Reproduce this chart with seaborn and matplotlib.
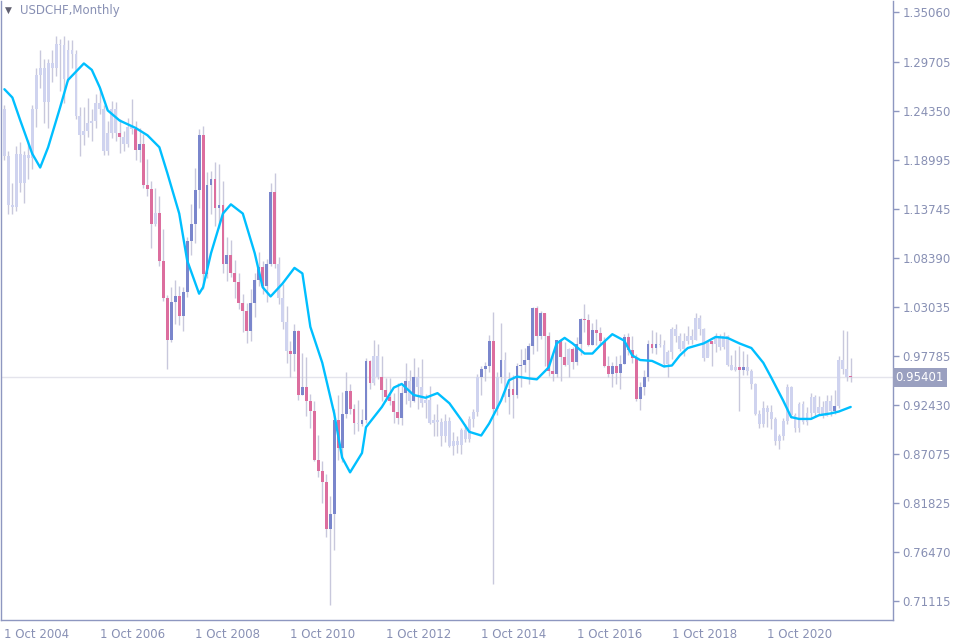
import numpy as np
import pandas as pd
import matplotlib
matplotlib.use("Agg")
import matplotlib.pyplot as plt
import seaborn as sns

# ---- data: USDCHF monthly, Oct 2004 .. Jul 2022 ----
start_month = "2004-10"
first_open = 1.245
closes = [
 1.195,1.141,1.139,
 1.197,1.165,1.196,1.192,1.245,1.282,1.290,1.253,1.295,1.290,1.316,1.315,
 1.278,1.310,1.305,1.238,1.217,1.222,1.230,1.232,1.252,1.245,1.200,1.220,
 1.246,1.219,1.215,1.208,1.226,1.224,1.201,1.208,1.163,1.159,1.121,1.133,
 1.081,1.040,0.995,1.036,1.042,1.021,1.047,1.102,1.121,1.158,1.217,1.066,
 1.163,1.169,1.138,1.141,1.077,1.087,1.068,1.058,1.035,1.026,1.004,1.035,
 1.060,1.074,1.053,1.077,1.155,1.077,1.040,1.014,0.983,0.980,1.004,0.935,
 0.944,0.929,0.918,0.864,0.853,0.841,0.790,0.806,0.908,0.877,0.914,0.939,
 0.920,0.905,0.903,0.908,0.972,0.948,0.977,0.955,0.940,0.933,0.928,0.916,
 0.910,0.937,0.950,0.929,0.955,0.944,0.926,0.930,0.905,0.908,0.906,0.890,
 0.907,0.880,0.885,0.881,0.897,0.887,0.909,0.917,0.955,0.963,0.966,0.994,
 0.920,0.955,0.973,0.933,0.941,0.935,0.966,0.968,0.973,0.988,1.029,0.999,
 1.024,0.999,0.961,0.958,0.995,0.976,0.968,0.985,0.971,0.990,1.017,1.016,
 0.989,1.006,1.002,0.994,0.967,0.958,0.967,0.959,0.969,0.998,0.984,0.975,
 0.931,0.944,0.955,0.990,0.986,0.990,0.989,0.969,0.982,1.007,0.999,0.985,
 0.994,0.999,0.995,1.019,1.007,0.975,0.994,0.990,0.998,0.987,0.999,0.968,
 0.962,0.965,0.962,0.965,0.961,0.947,0.914,0.904,0.921,0.916,0.909,0.885,
 0.891,0.907,0.944,0.913,0.899,0.925,0.906,0.915,0.933,0.915,0.922,0.912,
 0.928,0.918,0.923,0.973,0.963,0.955,0.954]
highs = [
 1.250,1.200,1.165,
 1.205,1.210,1.200,1.212,1.250,1.290,1.310,1.300,1.300,1.310,1.325,1.322,
 1.325,1.320,1.320,1.310,1.248,1.248,1.257,1.245,1.262,1.268,1.250,1.232,
 1.254,1.253,1.235,1.222,1.236,1.256,1.232,1.225,1.218,1.191,1.167,1.160,
 1.151,1.115,1.044,1.052,1.060,1.053,1.052,1.107,1.142,1.182,1.224,1.227,
 1.177,1.178,1.188,1.186,1.167,1.107,1.103,1.082,1.067,1.045,1.035,1.050,
 1.067,1.090,1.080,1.083,1.165,1.176,1.085,1.056,1.032,0.994,1.012,1.006,
 0.981,0.976,0.936,0.929,0.892,0.863,0.849,0.825,0.920,0.935,0.938,0.960,
 0.947,0.925,0.930,0.920,0.975,0.973,0.995,0.990,0.977,0.953,0.953,0.937,
 0.948,0.945,0.970,0.962,0.975,0.965,0.974,0.936,0.945,0.914,0.925,0.910,
 0.914,0.911,0.895,0.890,0.899,0.903,0.912,0.920,0.958,0.966,0.971,1.000,
 1.025,0.960,1.013,0.982,0.960,0.957,0.970,0.985,0.986,0.991,1.031,1.032,
 1.026,1.024,1.003,0.979,0.995,0.996,0.992,0.986,0.987,0.998,1.019,1.034,
 1.023,1.013,1.017,1.009,0.998,0.977,0.971,0.977,0.978,1.001,1.002,0.999,
 0.979,0.949,0.962,0.995,1.006,1.003,1.001,0.995,0.984,1.009,1.012,1.002,
 1.002,1.010,1.007,1.024,1.022,1.008,0.994,0.994,1.002,1.001,1.003,1.000,
 0.978,0.984,0.988,0.983,0.979,0.963,0.948,0.919,0.929,0.924,0.924,0.911,
 0.893,0.910,0.947,0.945,0.915,0.927,0.928,0.922,0.937,0.935,0.934,0.929,
 0.935,0.935,0.940,0.977,1.006,1.005,0.975]
lows = [
 1.190,1.131,1.131,
 1.135,1.155,1.143,1.170,1.180,1.226,1.268,1.230,1.225,1.275,1.281,1.265,
 1.252,1.276,1.290,1.235,1.195,1.206,1.215,1.211,1.225,1.240,1.196,1.196,
 1.214,1.211,1.198,1.200,1.204,1.218,1.190,1.188,1.160,1.151,1.095,1.118,
 1.075,1.037,0.963,0.992,1.012,1.011,1.005,1.041,1.087,1.100,1.138,1.050,
 1.062,1.131,1.118,1.116,1.068,1.059,1.063,1.040,1.028,1.003,0.991,0.994,
 1.020,1.053,1.045,1.036,1.075,1.073,1.034,1.007,0.970,0.954,0.961,0.930,
 0.935,0.912,0.899,0.863,0.846,0.818,0.781,0.707,0.767,0.864,0.862,0.910,
 0.914,0.893,0.896,0.901,0.905,0.942,0.946,0.952,0.928,0.928,0.924,0.905,
 0.903,0.902,0.925,0.922,0.927,0.920,0.922,0.910,0.904,0.890,0.890,0.880,
 0.884,0.878,0.870,0.872,0.871,0.884,0.884,0.900,0.912,0.935,0.950,0.960,
 0.730,0.913,0.948,0.927,0.914,0.910,0.932,0.944,0.960,0.947,0.980,0.983,
 0.996,0.967,0.956,0.950,0.955,0.950,0.966,0.955,0.963,0.968,0.978,1.003,
 0.988,0.989,0.989,0.989,0.965,0.955,0.944,0.947,0.942,0.969,0.978,0.970,
 0.929,0.919,0.935,0.950,0.981,0.980,0.987,0.965,0.954,0.974,0.993,0.983,
 0.977,0.990,0.990,0.995,1.000,0.972,0.977,0.966,0.982,0.984,0.985,0.967,
 0.962,0.961,0.918,0.957,0.957,0.941,0.913,0.899,0.900,0.900,0.898,0.881,
 0.876,0.886,0.904,0.910,0.895,0.895,0.903,0.902,0.909,0.911,0.913,0.910,
 0.912,0.912,0.914,0.921,0.958,0.950,0.949]
# months (index from Oct 2004) with coloured candles; others drawn pale
highlight_ranges = [(29, 29), (33, 37), (39, 68), (72, 88), (90, 92), (95, 101),
                    (103, 103), (120, 123), (125, 125), (127, 141), (143, 164),
                    (178, 178), (185, 186), (209, 209), (213, 213)]
# smooth indicator line (month index, value)
line_month = [0,2,4,7,9,11,14,16,20,22,24,26,29,33,36,39,41,44,46,49,50,52,55,57,60,63,65,67,70,73,75,
              77,80,83,85,87,90,91,95,98,100,103,106,109,112,115,117,120,122,125,127,129,132,134,137,139,
              141,143,146,148,150,153,156,158,160,163,166,168,170,172,176,179,182,185,188,191,193,196,198,
              200,203,205,208,210,213]
line_value = [1.267,1.258,1.233,1.197,1.182,1.204,1.247,1.277,1.295,1.288,1.269,1.244,1.233,1.225,1.217,
              1.204,1.176,1.132,1.081,1.045,1.052,1.089,1.132,1.142,1.132,1.089,1.052,1.042,1.056,1.073,1.067,
              1.009,0.970,0.915,0.867,0.851,0.872,0.900,0.922,0.943,0.947,0.935,0.932,0.937,0.926,0.908,0.895,
              0.891,0.904,0.929,0.951,0.955,0.953,0.952,0.965,0.991,0.997,0.991,0.980,0.980,0.989,1.001,0.994,
              0.978,0.973,0.972,0.966,0.967,0.978,0.986,0.991,0.998,0.997,0.991,0.986,0.970,0.954,0.929,0.911,
              0.909,0.909,0.913,0.915,0.917,0.922]
ytick_vals = [1.35060,1.29705,1.24350,1.18995,1.13745,1.08390,1.03035,0.97785,0.92430,0.87075,0.81825,0.76470,0.71115]
xtick_labels = ["1 Oct 2004","1 Oct 2006","1 Oct 2008","1 Oct 2010","1 Oct 2012",
                "1 Oct 2014","1 Oct 2016","1 Oct 2018","1 Oct 2020"]
last_price = 0.95401

# ---- build frame ----
n = len(closes)
opens = [first_open] + closes[:-1]
df = pd.DataFrame({"m": np.arange(n), "open": opens, "close": closes, "high": highs, "low": lows})
hl = np.zeros(n, bool)
for a, b in highlight_ranges:
    hl[a:b + 1] = True
df["hl"] = hl
up = df["close"] >= df["open"]

PALE = "#cfd3ef"; BLUE = "#7a86cc"; PINK = "#dc6e9e"; WICK = "#c8c8dc"; TXT = "#8890b4"; AX = "#8e97c0"
cols = np.where(~df["hl"], PALE, np.where(up, BLUE, PINK))

sns.set_style("white")
plt.rcParams["font.family"] = ["DejaVu Sans"]
fig = plt.figure(figsize=(9.6, 6.4), dpi=100)
ax = fig.add_axes([0.0015, 0.031, 0.9285, 0.967])

ax.axhline(last_price, color="#e4e4ec", lw=1, zorder=0)
ax.vlines(df["m"], df["low"], df["high"], color=WICK, lw=1, zorder=1)
bottom = np.minimum(df["open"], df["close"])
height = np.maximum((df["close"] - df["open"]).abs(), 0.0013)
ax.bar(df["m"], height, bottom=bottom, width=0.72, color=cols, lw=0, zorder=2)

ldf = pd.DataFrame({"m": line_month, "v": line_value})
sns.lineplot(data=ldf, x="m", y="v", ax=ax, color="#00bfff", lw=1.7, zorder=3,
             solid_joinstyle="round", solid_capstyle="round")

ax.set_xlim(-0.75, 223.6)
ax.set_ylim(0.6905, 1.3625)
ax.set_xlabel(""); ax.set_ylabel("")
ax.yaxis.tick_right()
ax.set_yticks(ytick_vals)
ax.set_yticklabels([f"{v:.5f}" for v in ytick_vals])
ax.tick_params(axis="y", colors=AX, labelcolor=TXT, labelsize=8.5, length=4, width=1, pad=3)
xt = [24 * i for i in range(len(xtick_labels))]
ax.set_xticks(xt)
ax.set_xticklabels(xtick_labels, ha="left")
ax.tick_params(axis="x", colors=AX, labelcolor=TXT, labelsize=8.5, length=4, width=1, pad=2)
for s in ["left", "right", "bottom"]:
    ax.spines[s].set_color(AX); ax.spines[s].set_linewidth(1)
ax.spines["top"].set_visible(False)

ax.text(0.004, 0.993, "▼", transform=ax.transAxes, ha="left", va="top", fontsize=6.5, color="#606070")
ax.text(0.021, 0.995, "USDCHF,Monthly", transform=ax.transAxes, ha="left", va="top",
        fontsize=8.5, color=TXT)
ax.text(1.003, last_price, f"{last_price:.5f}", transform=ax.get_yaxis_transform(),
        ha="left", va="center", fontsize=8.5, color="white",
        bbox=dict(boxstyle="square,pad=0.25", fc="#9aa0c0", ec="none"), zorder=5)

fig.savefig("out.png", dpi=100)
